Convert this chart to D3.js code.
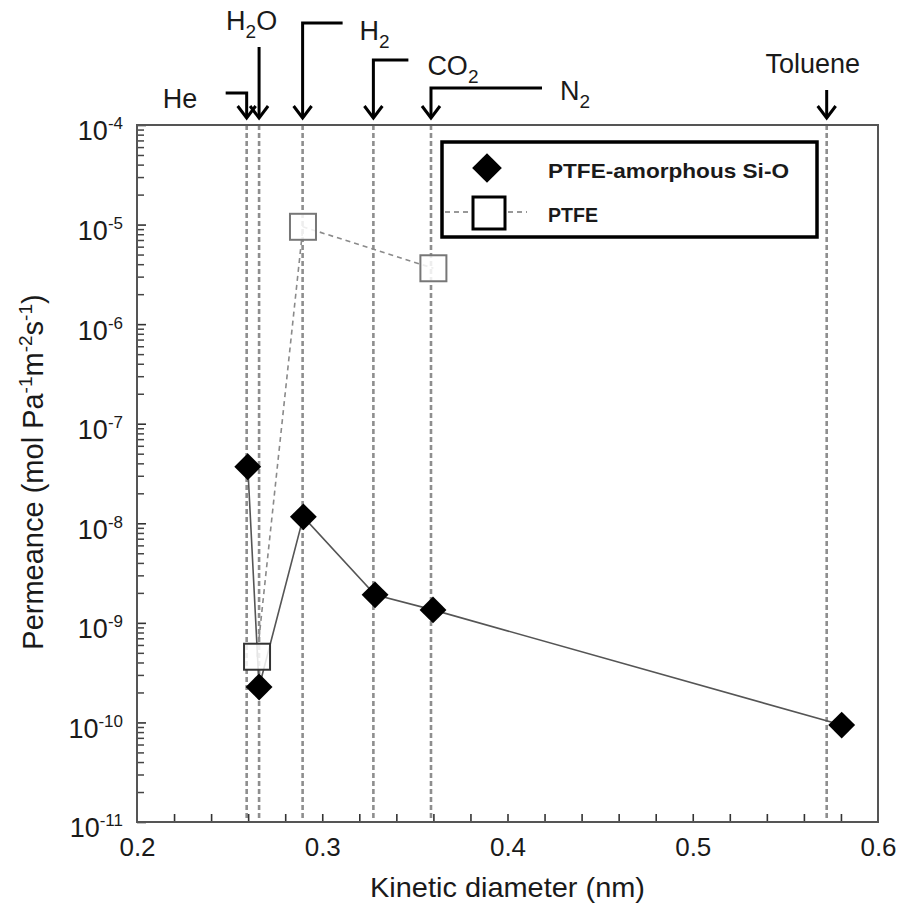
<!DOCTYPE html>
<html>
<head>
<meta charset="utf-8">
<script src="https://cdn.jsdelivr.net/npm/d3@7"></script>
<style>
  html, body { margin: 0; padding: 0; background: #fff; }
  svg { display: block; }
  text { font-family: "Liberation Sans", Arial, sans-serif; fill: #1a1a1a; }
</style>
</head>
<body>
<svg id="chart" width="901" height="906"></svg>
<script>
// Gases and their kinetic diameters (nm), marked by dashed guide lines
const gases = ["He", "H2O", "H2", "CO2", "N2", "Toluene"];
const gasDiameters = [0.2592, 0.2659, 0.2894, 0.3276, 0.3587, 0.5723];

// PTFE-amorphous Si-O membrane permeance (mol Pa-1 m-2 s-1)
const siOGases = ["He", "H2O", "H2", "CO2", "N2", "Toluene"];
const siODiameters = [0.2598, 0.2659, 0.2898, 0.3285, 0.3598, 0.5804];
const siOPermeance = [3.7e-8, 2.27e-10, 1.16e-8, 1.91e-9, 1.35e-9, 9.4e-11];

// Bare PTFE support permeance
const ptfeGases = ["H2O", "H2", "N2"];
const ptfeDiameters = [0.2648, 0.2896, 0.3600];
const ptfePermeance = [4.57e-10, 9.5e-6, 3.64e-6];

// Axis ticks
const xTickLabels = [0.2, 0.3, 0.4, 0.5, 0.6];
const yExponents = [-4, -5, -6, -7, -8, -9, -10, -11];

const svg = d3.select("#chart");
const plotLeft = 137, plotRight = 878, plotTop = 125, plotBottom = 822;

const x = d3.scaleLinear().domain([0.2, 0.6]).range([plotLeft, plotRight]);
const y = d3.scaleLog().domain([1e-11, 1e-4]).range([plotBottom, plotTop]);

// ---- dashed guide lines at each kinetic diameter
svg.append("g").selectAll("line").data(gasDiameters).join("line")
  .attr("x1", d => x(d)).attr("x2", d => x(d))
  .attr("y1", plotTop).attr("y2", plotBottom)
  .attr("stroke", "#8e8e8e").attr("stroke-width", 2.6)
  .attr("stroke-dasharray", "5,3");

// ---- x axis: minor ticks every 0.02 pointing inward, labels on the majors
const xMinor = d3.range(0.22, 0.6, 0.02);
svg.append("g").attr("transform", `translate(0,${plotBottom})`)
  .call(d3.axisBottom(x).tickValues(xMinor).tickSize(-8).tickFormat(""))
  .call(g => g.select(".domain").remove())
  .call(g => g.selectAll(".tick line").attr("stroke", "#333").attr("stroke-width", 1.6));

svg.append("g").attr("transform", `translate(0,${plotBottom})`)
  .call(d3.axisBottom(x).tickValues(xTickLabels).tickSize(0).tickPadding(16).tickFormat(d3.format(".1f")))
  .call(g => g.select(".domain").remove())
  .call(g => g.selectAll(".tick text")
    .attr("font-size", 26).attr("fill", "#1a1a1a")
    .attr("font-family", "Liberation Sans, Arial, sans-serif"));

// ---- y axis: log ticks (2..9 per decade) inward, labels as powers of ten
const yMinor = [];
for (let e = -11; e < -4; e++) for (let m = 2; m <= 9; m++) yMinor.push(m * Math.pow(10, e));
const yMajor = yExponents.map(e => Math.pow(10, e));

svg.append("g").attr("transform", `translate(${plotLeft},0)`)
  .call(d3.axisLeft(y).tickValues(yMinor).tickSize(-7).tickFormat(""))
  .call(g => g.select(".domain").remove())
  .call(g => g.selectAll(".tick line").attr("stroke", "#444").attr("stroke-width", 1.5));

svg.append("g").attr("transform", `translate(${plotLeft},0)`)
  .call(d3.axisLeft(y).tickValues(yMajor).tickSize(-9).tickPadding(14).tickFormat(""))
  .call(g => g.select(".domain").remove())
  .call(g => g.selectAll(".tick line").attr("stroke", "#333").attr("stroke-width", 1.6))
  .call(g => g.selectAll(".tick text")
    .attr("font-size", 27).attr("fill", "#1a1a1a").attr("dy", "0.55em")
    .attr("font-family", "Liberation Sans, Arial, sans-serif")
    .each(function(d) {
      const t = d3.select(this);
      const e = Math.round(Math.log10(d));
      t.text(null);
      t.append("tspan").text("10");
      t.append("tspan").attr("font-size", 17).attr("dy", -11).text("-" + Math.abs(e));
    }));

// ---- plot frame
svg.append("rect")
  .attr("x", plotLeft).attr("y", plotTop)
  .attr("width", plotRight - plotLeft).attr("height", plotBottom - plotTop)
  .attr("fill", "none").attr("stroke", "#555").attr("stroke-width", 2);

// ---- PTFE series: dashed connector, hollow squares
const ptfePts = ptfeDiameters.map((d, i) => [x(d), y(ptfePermeance[i])]);
svg.append("path")
  .attr("d", d3.line()(ptfePts))
  .attr("fill", "none").attr("stroke", "#8a8a8a").attr("stroke-width", 1.6)
  .attr("stroke-dasharray", "5,4");

// ---- PTFE-amorphous Si-O series: solid connector, filled diamonds
const siOPts = siODiameters.map((d, i) => [x(d), y(siOPermeance[i])]);
svg.append("path")
  .attr("d", d3.line()(siOPts))
  .attr("fill", "none").attr("stroke", "#555").attr("stroke-width", 1.6);

svg.append("g").selectAll("rect").data(ptfePts).join("rect")
  .attr("x", d => d[0] - 13).attr("y", d => d[1] - 13)
  .attr("width", 26).attr("height", 26)
  .attr("fill", "#fff").attr("fill-opacity", 0.85)
  .attr("stroke", (d, i) => i === 0 ? "#333" : "#777").attr("stroke-width", 2);

svg.append("g").selectAll("path").data(siOPts).join("path")
  .attr("transform", d => `translate(${d[0]},${d[1]}) rotate(45)`)
  .attr("d", d3.symbol().type(d3.symbolSquare).size(19 * 19))
  .attr("fill", "#000");

// ---- legend
const lg = svg.append("g");
lg.append("rect").attr("x", 442).attr("y", 142).attr("width", 375).attr("height", 95)
  .attr("fill", "#fff").attr("stroke", "#000").attr("stroke-width", 3.5);
lg.append("path")
  .attr("transform", "translate(487,168) rotate(45)")
  .attr("d", d3.symbol().type(d3.symbolSquare).size(21 * 21))
  .attr("fill", "#000");
lg.append("line").attr("x1", 445).attr("x2", 527).attr("y1", 212).attr("y2", 212)
  .attr("stroke", "#777").attr("stroke-width", 1.6).attr("stroke-dasharray", "5,4");
lg.append("rect").attr("x", 473).attr("y", 197).attr("width", 32).attr("height", 32)
  .attr("fill", "#fff").attr("stroke", "#000").attr("stroke-width", 3);
lg.append("text").attr("x", 548).attr("y", 178)
  .attr("font-family", "Lato, 'Open Sans', sans-serif").attr("font-weight", 700)
  .attr("font-size", 21).attr("fill", "#000")
  .attr("textLength", 241).attr("lengthAdjust", "spacingAndGlyphs")
  .text("PTFE-amorphous Si-O");
lg.append("text").attr("x", 548).attr("y", 222)
  .attr("font-family", "Lato, 'Open Sans', sans-serif").attr("font-weight", 700)
  .attr("font-size", 21).attr("fill", "#000")
  .attr("textLength", 50).attr("lengthAdjust", "spacingAndGlyphs")
  .text("PTFE");

// ---- gas call-outs above the frame: label, elbow line and arrow
const callouts = [
  { gas: "He",      parts: [["He", 0]],                         elbowY: 93,  arm: -21, lx: -84, ly: 108, anchor: "start" },
  { gas: "H2O",     parts: [["H", 0], ["2", 1], ["O", 0]],      elbowY: 47,  arm: 0,   lx: -33, ly: 30,  anchor: "start" },
  { gas: "H2",      parts: [["H", 0], ["2", 1]],                elbowY: 23,  arm: 40,  lx: 57,  ly: 40,  anchor: "start" },
  { gas: "CO2",     parts: [["CO", 0], ["2", 1]],               elbowY: 60,  arm: 35,  lx: 54,  ly: 75,  anchor: "start" },
  { gas: "N2",      parts: [["N", 0], ["2", 1]],                elbowY: 88,  arm: 111, lx: 129, ly: 100, anchor: "start" },
  { gas: "Toluene", parts: [["Toluene", 0]],                    elbowY: 90,  arm: 0,   lx: -14, ly: 73,  anchor: "middle" }
];
const tipY = 118;
const ann = svg.append("g");
callouts.forEach(c => {
  const cx = x(gasDiameters[gases.indexOf(c.gas)]);
  const pts = c.arm !== 0
    ? [[cx + c.arm, c.elbowY], [cx, c.elbowY], [cx, tipY]]
    : [[cx, c.elbowY], [cx, tipY]];
  ann.append("path").attr("d", d3.line()(pts))
    .attr("fill", "none").attr("stroke", "#000").attr("stroke-width", 3);
  ann.append("path").attr("d", d3.line()([[cx - 9, tipY - 12], [cx, tipY], [cx + 9, tipY - 12]]))
    .attr("fill", "none").attr("stroke", "#000").attr("stroke-width", 3)
    .attr("stroke-linejoin", "miter");
  const t = ann.append("text").attr("x", cx + c.lx).attr("y", c.ly)
    .attr("font-size", 27).attr("text-anchor", c.anchor);
  let shifted = 0;
  c.parts.forEach(([s, sub]) => {
    const dy = sub ? 8 - shifted : -shifted;
    t.append("tspan").attr("dy", dy).attr("font-size", sub ? 19 : 27).text(s);
    shifted = sub ? 8 : 0;
  });
});

// ---- axis titles
svg.append("text")
  .attr("x", (plotLeft + plotRight) / 2).attr("y", 897)
  .attr("text-anchor", "middle").attr("font-size", 28)
  .attr("textLength", 275).attr("lengthAdjust", "spacingAndGlyphs")
  .text("Kinetic diameter (nm)");

const yt = svg.append("text")
  .attr("transform", "translate(43,472) rotate(-90)")
  .attr("text-anchor", "middle").attr("font-size", 29);
[["Permeance (mol Pa", 0], ["-1", 1], ["m", 0], ["-2", 1], ["s", 0], ["-1", 1], [")", 0]]
  .reduce((prev, [s, sup]) => {
    const dy = sup ? -11 - prev : -prev;
    yt.append("tspan").attr("dy", dy).attr("font-size", sup ? 19 : 29).text(s);
    return sup ? -11 : 0;
  }, 0);
</script>
</body>
</html>
